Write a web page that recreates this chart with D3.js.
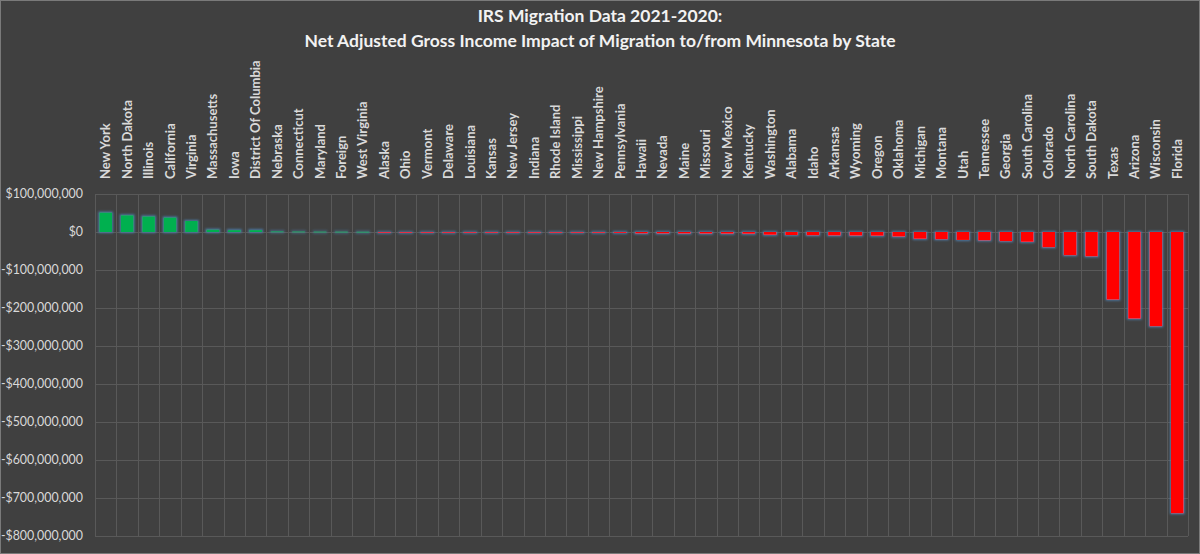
<!DOCTYPE html>
<html>
<head>
<meta charset="utf-8">
<script src="https://cdn.jsdelivr.net/npm/d3@7"></script>
<style>
  html, body { margin: 0; padding: 0; background: #404040; }
  svg { display: block; }
</style>
</head>
<body>
<svg id="chart" width="1200" height="554"></svg>
<script>
const titleLines = [
  "IRS Migration Data 2021-2020:",
  "Net Adjusted Gross Income Impact of Migration to/from Minnesota by State"
];

const states = [
  "New York", "North Dakota", "Illinois", "California", "Virginia", "Massachusetts",
  "Iowa", "District Of Columbia", "Nebraska", "Connecticut", "Maryland", "Foreign",
  "West Virginia", "Alaska", "Ohio", "Vermont", "Delaware", "Louisiana", "Kansas",
  "New Jersey", "Indiana", "Rhode Island", "Mississippi", "New Hampshire",
  "Pennsylvania", "Hawaii", "Nevada", "Maine", "Missouri", "New Mexico", "Kentucky",
  "Washington", "Alabama", "Idaho", "Arkansas", "Wyoming", "Oregon", "Oklahoma",
  "Michigan", "Montana", "Utah", "Tennessee", "Georgia", "South Carolina", "Colorado",
  "North Carolina", "South Dakota", "Texas", "Arizona", "Wisconsin", "Florida"
];

const netAGI = [
  51000000, 44000000, 41000000, 38000000, 29000000, 6000000,
  5000000, 5000000, 1500000, 1200000, 1000000, 900000,
  700000, -300000, -500000, -600000, -700000, -800000, -900000,
  -1000000, -1100000, -1800000, -2000000, -2200000,
  -2500000, -3500000, -3700000, -3900000, -4100000, -4400000, -4700000,
  -7500000, -8000000, -8500000, -9000000, -9500000, -10000000, -12000000,
  -18000000, -19000000, -21000000, -22000000, -24000000, -26000000, -40000000,
  -61000000, -64000000, -178000000, -228000000, -248000000, -740000000
];

const yTicks = [100000000, 0, -100000000, -200000000, -300000000, -400000000,
  -500000000, -600000000, -700000000, -800000000];

const W = 1200, H = 554;
const plot = { left: 95, right: 1188, top: 194, bottom: 536 };

const svg = d3.select("#chart");

// background + border
svg.append("rect").attr("x", 0).attr("y", 0).attr("width", W).attr("height", H)
  .attr("fill", "#404040");
svg.append("rect").attr("x", 0.5).attr("y", 0.5).attr("width", W - 1).attr("height", H - 1)
  .attr("fill", "none").attr("stroke", "#7a7a7a").attr("stroke-width", 1);

// glow filter
const defs = svg.append("defs");
const f = defs.append("filter").attr("id", "glow")
  .attr("x", "-50%").attr("y", "-50%").attr("width", "200%").attr("height", "200%");
f.append("feMorphology").attr("in", "SourceAlpha").attr("operator", "dilate").attr("radius", 1.4).attr("result", "dil");
f.append("feGaussianBlur").attr("in", "dil").attr("stdDeviation", 1).attr("result", "blur");
f.append("feFlood").attr("flood-color", "#4d7fae").attr("flood-opacity", 0.9).attr("result", "col");
f.append("feComposite").attr("in", "col").attr("in2", "blur").attr("operator", "in").attr("result", "glowc");
const fm = f.append("feMerge");
fm.append("feMergeNode").attr("in", "glowc");
fm.append("feMergeNode").attr("in", "SourceGraphic");

const x = d3.scaleBand().domain(states).range([plot.left, plot.right])
  .paddingInner(0.41).paddingOuter(0.205);
const step = x.step();
const y = d3.scaleLinear().domain([-800000000, 100000000]).range([plot.bottom, plot.top]);

// horizontal gridlines
svg.append("g").selectAll("line").data(yTicks).join("line")
  .attr("x1", plot.left).attr("x2", plot.right)
  .attr("y1", d => Math.round(y(d)) + 0.5).attr("y2", d => Math.round(y(d)) + 0.5)
  .attr("stroke", "#595959").attr("stroke-width", 1);

// vertical gridlines at category boundaries
const bounds = d3.range(states.length + 1);
svg.append("g").selectAll("line").data(bounds).join("line")
  .attr("x1", i => Math.round(plot.left + i * step) + 0.5)
  .attr("x2", i => Math.round(plot.left + i * step) + 0.5)
  .attr("y1", plot.top).attr("y2", plot.bottom)
  .attr("stroke", "#595959").attr("stroke-width", 1);

// y axis labels
const fmt = v => (v < 0 ? "-$" : "$") + d3.format(",")(Math.abs(v));
const yAxis = d3.axisLeft(y).tickValues(yTicks).tickFormat(fmt).tickSize(0).tickPadding(0);
const gy = svg.append("g").attr("transform", "translate(83,0)").call(yAxis);
gy.select(".domain").remove();
gy.selectAll("text")
  .attr("fill", "#d9d9d9")
  .style("font-family", "Lato, 'Open Sans', sans-serif")
  .style("font-size", "12.4px");

// bars
const data = states.map((s, i) => ({ state: s, value: netAGI[i] }));
svg.append("g").attr("filter", "url(#glow)").selectAll("rect").data(data).join("rect")
  .attr("x", d => x(d.state))
  .attr("width", x.bandwidth())
  .attr("y", d => y(Math.max(0, d.value)))
  .attr("height", d => Math.max(0.8, Math.abs(y(d.value) - y(0))))
  .attr("fill", d => d.value >= 0 ? "#00b050" : "#ff0000");

// category labels (top, rotated)
const xAxis = d3.axisTop(x).tickSize(0).tickPadding(0);
const gx = svg.append("g").attr("transform", "translate(0,179)").call(xAxis);
gx.select(".domain").remove();
gx.selectAll("text")
  .attr("transform", "rotate(-90)")
  .attr("text-anchor", "start")
  .attr("x", 0).attr("y", 0).attr("dy", "0.35em")
  .attr("fill", "#d9d9d9")
  .style("font-family", "Lato, 'Open Sans', sans-serif")
  .style("font-weight", "bold")
  .style("font-size", "13px");

// title
svg.append("g").selectAll("text").data(titleLines).join("text")
  .attr("x", 600)
  .attr("y", (d, i) => 22 + i * 25)
  .attr("text-anchor", "middle")
  .attr("fill", "#f2f2f2")
  .style("font-family", "Lato, 'Open Sans', sans-serif")
  .style("font-weight", "bold")
  .style("font-size", "17.5px")
  .text(d => d);
</script>
</body>
</html>
